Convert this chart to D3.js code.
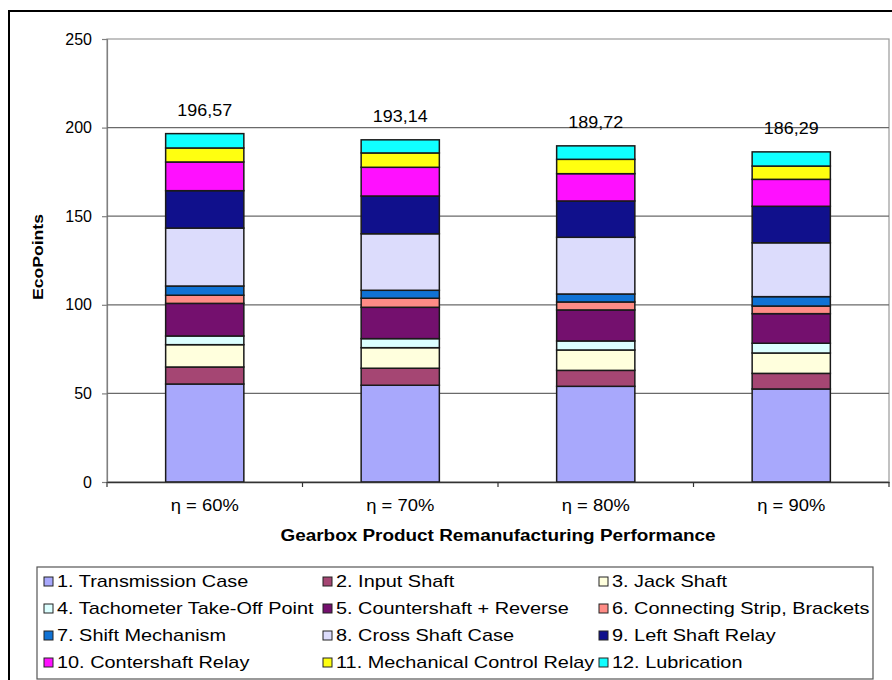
<!DOCTYPE html>
<html>
  <head>
    <meta charset="utf-8">
    <style>
      body {
        padding: 0;
        margin: 0;
        background: #fff;
        font-family: 'Liberation Sans', Arial, sans-serif;
      }
    </style>
  </head>
  <body>
    <div id="chart"></div>
    <script src="https://cdn.jsdelivr.net/npm/d3@7/dist/d3.min.js"></script>
    <script>
      var categories = ["η = 60%", "η = 70%", "η = 80%", "η = 90%"];

      var components = [
        "1. Transmission Case", "2. Input Shaft", "3. Jack Shaft",
        "4. Tachometer Take-Off Point", "5. Countershaft + Reverse", "6. Connecting Strip, Brackets",
        "7. Shift Mechanism", "8. Cross Shaft Case", "9. Left Shaft Relay",
        "10. Contershaft Relay", "11. Mechanical Control Relay", "12. Lubrication"
      ];

      var colors = [
        "#a8a8fc", "#a54673", "#ffffdd", "#dcffff", "#74106e", "#ff8c86",
        "#1072d4", "#dcdcfc", "#10108c", "#ff10ff", "#ffff10", "#10ffff"
      ];

      // ecopoints per component, one value per category (60%, 70%, 80%, 90%)
      var transmissionCase = [55.3, 54.6, 54.0, 52.5];
      var inputShaft       = [9.6, 9.6, 9.0, 8.8];
      var jackShaft        = [12.6, 11.6, 11.5, 11.5];
      var tachometer       = [4.9, 5.1, 5.1, 5.5];
      var countershaft     = [18.4, 17.7, 17.5, 16.7];
      var connectingStrip  = [4.6, 5.1, 4.5, 4.3];
      var shiftMechanism   = [5.2, 4.5, 4.5, 5.3];
      var crossShaftCase   = [32.7, 31.9, 32.0, 30.4];
      var leftShaftRelay   = [21.1, 21.3, 20.5, 20.6];
      var contershaftRelay = [16.2, 16.2, 15.4, 15.2];
      var mechControlRelay = [7.9, 8.1, 8.1, 7.5];
      var lubrication      = [8.1, 7.4, 7.6, 8.0];

      var totals = [196.57, 193.14, 189.72, 186.29];
      var yTicks = [0, 50, 100, 150, 200, 250];

      var series = [transmissionCase, inputShaft, jackShaft, tachometer, countershaft,
                    connectingStrip, shiftMechanism, crossShaftCase, leftShaftRelay,
                    contershaftRelay, mechControlRelay, lubrication];

      var data = categories.map((c, i) => {
        var row = {cat: c};
        components.forEach((k, j) => row[k] = series[j][i]);
        return row;
      });

      var W = 892, H = 680;
      var plot = {left: 107, right: 889, top: 39, bottom: 482};

      var svg = d3.select("#chart").append("svg")
        .attr("width", W)
        .attr("height", H);

      // outer frame
      svg.append("rect")
        .attr("x", 9).attr("y", 11)
        .attr("width", W + 20).attr("height", H + 20)
        .attr("fill", "#fff")
        .attr("stroke", "#000")
        .attr("stroke-width", 2);

      var x = d3.scaleBand()
        .domain(categories)
        .range([plot.left, plot.right])
        .paddingInner(0.6)
        .paddingOuter(0.3);

      var y = d3.scaleLinear()
        .domain([0, 250])
        .range([plot.bottom, plot.top]);

      var z = d3.scaleOrdinal().domain(components).range(colors);

      // plot area border
      svg.append("rect")
        .attr("x", plot.left).attr("y", plot.top)
        .attr("width", plot.right - plot.left)
        .attr("height", plot.bottom - plot.top)
        .attr("fill", "none")
        .attr("stroke", "#9a9a9a")
        .attr("stroke-width", 1.2);

      // gridlines + y axis
      var yAxis = svg.append("g")
        .attr("transform", "translate(" + plot.left + ",0)")
        .call(d3.axisLeft(y).tickValues(yTicks).tickSize(5).tickPadding(10));
      yAxis.select(".domain").attr("stroke", "#808080").attr("stroke-width", 1.2);
      yAxis.selectAll(".tick line").attr("stroke", "#808080").attr("stroke-width", 1.2);
      yAxis.selectAll(".tick text")
        .attr("font-family", "'Liberation Sans', Arial, sans-serif")
        .attr("font-size", "16px")
        .attr("fill", "#000");

      svg.append("g")
        .selectAll("line")
        .data(yTicks.filter(t => t > 0 && t < 250))
        .enter().append("line")
          .attr("x1", plot.left).attr("x2", plot.right)
          .attr("y1", d => y(d)).attr("y2", d => y(d))
          .attr("stroke", "#6a6a6a")
          .attr("stroke-width", 1.2);

      // stacked bars
      var stack = d3.stack().keys(components);

      svg.append("g")
        .selectAll("g")
        .data(stack(data))
        .enter().append("g")
          .attr("fill", d => z(d.key))
        .selectAll("rect")
        .data(d => d)
        .enter().append("rect")
          .attr("x", d => x(d.data.cat))
          .attr("y", d => y(d[1]))
          .attr("height", d => y(d[0]) - y(d[1]))
          .attr("width", x.bandwidth())
          .attr("stroke", "#1a1a1a")
          .attr("stroke-width", 1.5);

      // x axis
      var xAxis = svg.append("g")
        .attr("transform", "translate(0," + plot.bottom + ")")
        .call(d3.axisBottom(x).tickSize(0).tickPadding(18));
      xAxis.select(".domain").attr("stroke", "#333").attr("stroke-width", 1.5);
      xAxis.selectAll(".tick text")
        .attr("font-family", "'Liberation Sans', Arial, sans-serif")
        .attr("font-size", "16px")
        .attr("fill", "#000")
        .attr("transform", "scale(1.15,1)");

      // category separator ticks
      var bounds = categories.map(c => x(c) - x.step() * x.paddingInner() / 2).concat([plot.right]);
      svg.append("g")
        .selectAll("line")
        .data(bounds)
        .enter().append("line")
          .attr("x1", d => d).attr("x2", d => d)
          .attr("y1", plot.bottom).attr("y2", plot.bottom + 5)
          .attr("stroke", "#333")
          .attr("stroke-width", 1.2);

      // totals above bars
      svg.append("g")
        .selectAll("text")
        .data(totals)
        .enter().append("text")
          .attr("transform", (d, i) => "translate(" + (x(categories[i]) + x.bandwidth() / 2) + "," + (y(d) - 18) + ") scale(1.12,1)")
          .attr("text-anchor", "middle")
          .attr("font-size", "16px")
          .text(d => d3.format(".2f")(d).replace(".", ","));

      // axis titles
      svg.append("text")
        .attr("transform", "translate(43," + 257 + ") rotate(-90)")
        .attr("text-anchor", "middle")
        .attr("font-size", "15px")
        .attr("font-weight", "bold")
        .attr("textLength", 86)
        .attr("lengthAdjust", "spacingAndGlyphs")
        .text("EcoPoints");

      svg.append("text")
        .attr("x", 498)
        .attr("y", 541)
        .attr("text-anchor", "middle")
        .attr("font-size", "16px")
        .attr("font-weight", "bold")
        .attr("textLength", 435)
        .attr("lengthAdjust", "spacingAndGlyphs")
        .text("Gearbox Product Remanufacturing Performance");

      // legend
      svg.append("rect")
        .attr("x", 37).attr("y", 567)
        .attr("width", 836).attr("height", 112)
        .attr("fill", "#fff")
        .attr("stroke", "#555")
        .attr("stroke-width", 1.2);

      var colX = [44, 323, 599];
      var legend = svg.append("g")
        .selectAll("g")
        .data(components)
        .enter().append("g")
          .attr("transform", (d, i) => "translate(" + colX[i % 3] + "," + (581 + Math.floor(i / 3) * 27) + ")");

      legend.append("rect")
        .attr("x", 0).attr("y", -4)
        .attr("width", 9).attr("height", 9)
        .attr("fill", z)
        .attr("stroke", "#222")
        .attr("stroke-width", 1);

      legend.append("text")
        .attr("transform", "translate(13,6) scale(1.17,1)")
        .attr("font-size", "17px")
        .text(d => d);
    </script>
  </body>
</html>
